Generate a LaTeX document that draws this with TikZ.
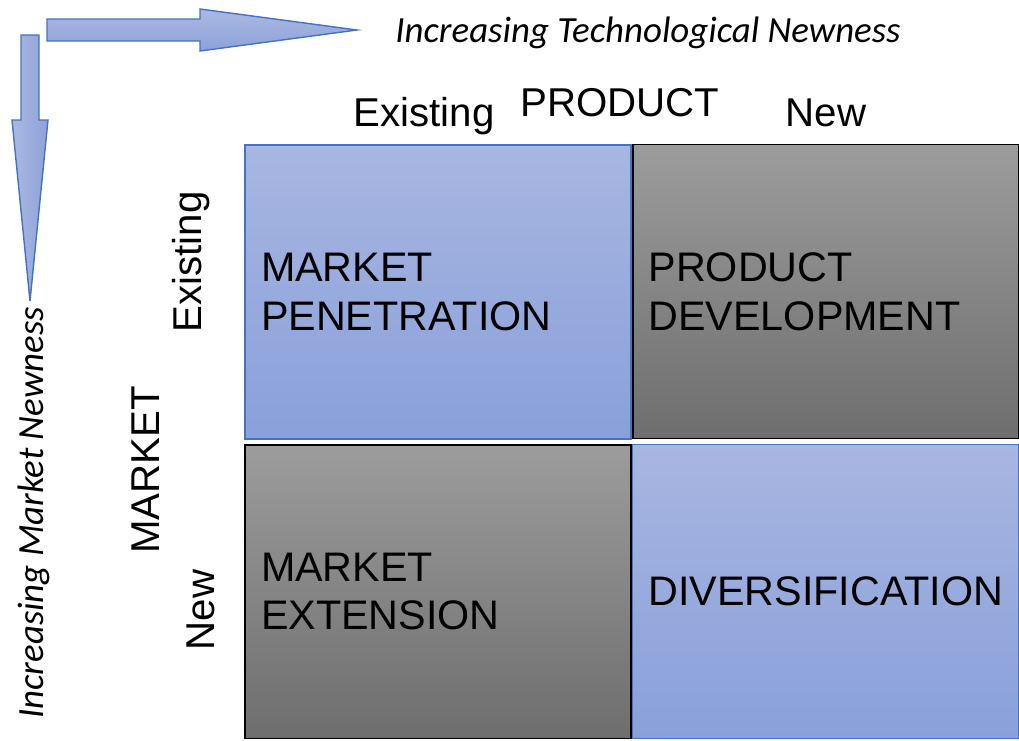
\documentclass[tikz,border=0pt]{standalone}
\usepackage{fontspec}
\setmainfont{Liberation Sans}
\newfontfamily\calibri{Carlito}
\usepackage{tikz}

\begin{document}
\begin{tikzpicture}[x=0.02cm, y=-0.02cm,
  quad/.style={rectangle, minimum width=7.72cm, minimum height=5.88cm, inner xsep=0.32cm,
    text width=7.08cm, align=left, font=\fontsize{23.5}{27.8}\selectfont},
  bluequad/.style={quad, draw=blueline, line width=0.9pt, top color=bluetop, bottom color=bluebot},
  grayquad/.style={quad, draw=black, line width=1.1pt, top color=graytop, bottom color=graybot},
  axislabel/.style={anchor=base, inner sep=0pt, font=\fontsize{22.9}{27.5}\selectfont},
  newness/.style={anchor=base, inner sep=0pt, font=\calibri\itshape\fontsize{21}{25}\selectfont},
  bigarrow/.style={draw=blueline, line width=0.8pt}]
\definecolor{blueline}{HTML}{4472C4}
\definecolor{bluetop}{HTML}{A8B6E1}
\definecolor{bluebot}{HTML}{89A0DA}
\definecolor{graytop}{HTML}{9C9C9C}
\definecolor{graybot}{HTML}{6E6E6E}
\definecolor{arrowlight}{HTML}{ABB9E2}
\definecolor{arrowdark}{HTML}{8DA2D9}
\useasboundingbox (0,0) rectangle (1019,741);

\draw[bigarrow, top color=arrowlight, bottom color=arrowdark]
  (47,19) -- (200,19) -- (200,9) -- (357,30) -- (200,51) -- (200,41) -- (47,41) -- cycle;
\draw[bigarrow, left color=arrowlight, right color=arrowdark]
  (21,35) -- (39,35) -- (39,120) -- (48,120) -- (30,301) -- (12,120) -- (21,120) -- cycle;

\node[newness] (techlabel) at (648,42) {Increasing Technological Newness};
\node[newness, rotate=90] (marketlabel) at (43,513) {Increasing Market Newness};

\node[axislabel] (prodexisting) at (424,126) {Existing};
\node[axislabel] (product) at (620,116) {PRODUCT};
\node[axislabel] (prodnew) at (826,126) {New};

\node[axislabel, rotate=90] (mktexisting) at (201,262) {Existing};
\node[axislabel, rotate=90] (market) at (159,470) {MARKET};
\node[axislabel, rotate=90] (mktnew) at (214,610) {New};

\node[bluequad] (penetration) at (438,292) {MARKET\\PENETRATION};
\node[grayquad] (development) at (825.5,291.5) {PRODUCT\\DEVELOPMENT};
\node[grayquad] (extension) at (438,591.5) {MARKET\\EXTENSION};
\node[bluequad] (diversification) at (825.5,591.5) {DIVERSIFICATION};
\end{tikzpicture}
\end{document}
